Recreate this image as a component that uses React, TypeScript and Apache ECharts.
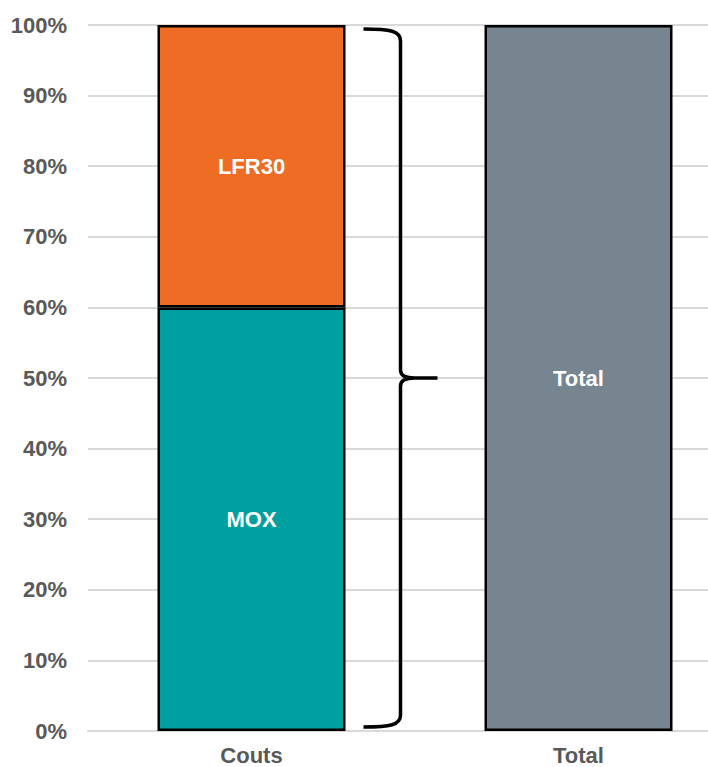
import React, { useEffect, useRef } from "react";
import * as echarts from "echarts";

const categories = ["Couts", "Total"];
const moxValues: (number | string)[] = [60, "-"];
const lfrValues: (number | string)[] = [40, "-"];
const totalValues: (number | string)[] = ["-", 100];
const braceData = [[0, 0, 100]];
const yTickMax = 100;
const yTickInterval = 10;

export default function App() {
  const ref = useRef<HTMLDivElement>(null);
  useEffect(() => {
    if (!ref.current) return;
    const chart = echarts.init(ref.current, null, { renderer: "svg" });
    const font = "'Liberation Sans', Arial, sans-serif";
    const barLabel = {
      show: true,
      position: "inside",
      formatter: "{a}",
      color: "#ffffff",
      fontWeight: "bold",
      fontSize: 22,
      fontFamily: font,
    };
    chart.setOption({
      animation: false,
      grid: { left: 88, top: 25, right: 0, height: 706 },
      xAxis: {
        type: "category",
        data: categories,
        axisLine: { show: true, lineStyle: { color: "#D9D9D9", width: 2 } },
        axisTick: { show: false },
        axisLabel: {
          color: "#595959",
          fontWeight: "bold",
          fontSize: 22,
          fontFamily: font,
          margin: 13,
        },
      },
      yAxis: {
        type: "value",
        min: 0,
        max: yTickMax,
        interval: yTickInterval,
        axisLine: { show: false },
        axisTick: { show: false },
        splitLine: { lineStyle: { color: "#D9D9D9", width: 2 } },
        axisLabel: {
          formatter: "{value}%",
          color: "#595959",
          fontWeight: "bold",
          fontSize: 22,
          fontFamily: font,
          margin: 21,
        },
      },
      series: [
        {
          name: "MOX",
          type: "bar",
          stack: "a",
          data: moxValues,
          barWidth: 188,
          itemStyle: { color: "#00A0A0", borderColor: "#000000", borderWidth: 2.5 },
          label: barLabel,
        },
        {
          name: "LFR30",
          type: "bar",
          stack: "a",
          data: lfrValues,
          barWidth: 188,
          itemStyle: { color: "#EE6C23", borderColor: "#000000", borderWidth: 2.5 },
          label: barLabel,
        },
        {
          name: "Total",
          type: "bar",
          stack: "a",
          data: totalValues,
          barWidth: 188,
          itemStyle: { color: "#76858F", borderColor: "#000000", borderWidth: 2.5 },
          label: barLabel,
        },
        {
          name: "brace",
          type: "custom",
          data: braceData,
          z: 10,
          renderItem: (params: any, api: any) => {
            const bottom = api.coord([api.value(0), api.value(1)]);
            const top = api.coord([api.value(0), api.value(2)]);
            const cx = bottom[0];
            const yt = top[1] + 4;
            const yb = bottom[1] - 4;
            const ym = (yt + yb) / 2;
            const xl = cx + 112;
            const xv = cx + 149;
            const xt = cx + 186;
            const d =
              `M ${xl} ${yt} C ${xv - 10} ${yt} ${xv} ${yt + 2} ${xv} ${yt + 12} ` +
              `L ${xv} ${ym - 8} C ${xv} ${ym - 2} ${xv + 6} ${ym} ${xv + 14} ${ym} ` +
              `L ${xt} ${ym} M ${xv + 14} ${ym} C ${xv + 6} ${ym} ${xv} ${ym + 2} ${xv} ${ym + 8} ` +
              `L ${xv} ${yb - 12} C ${xv} ${yb - 2} ${xv - 10} ${yb} ${xl} ${yb}`;
            return {
              type: "path",
              shape: { pathData: d },
              style: { stroke: "#000000", lineWidth: 3.5, fill: "none" },
            };
          },
        },
      ],
    });
    return () => chart.dispose();
  }, []);
  return (
    <div style={{ position: "absolute", left: 0, top: 0, width: 708, height: 767, overflow: "hidden", background: "#fff" }}>
      <div ref={ref} style={{ width: 742, height: 767 }} />
    </div>
  );
}
